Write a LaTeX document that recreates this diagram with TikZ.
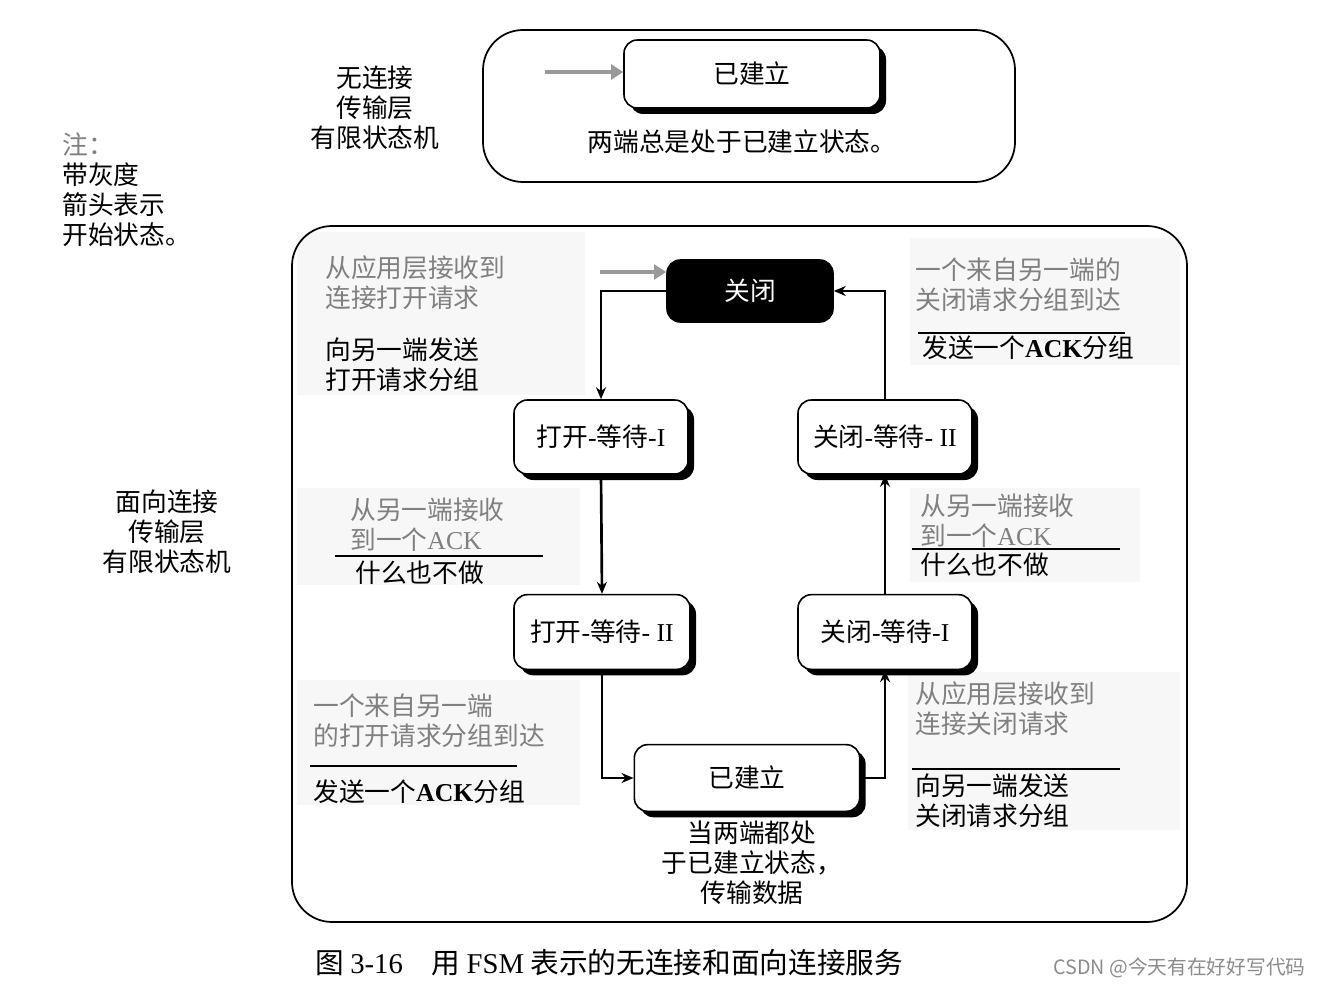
\documentclass[tikz,border=0pt]{standalone}
\usepackage{fontspec}
\setmainfont{Noto Sans CJK SC}
\newfontfamily\lat{Liberation Serif}
\usetikzlibrary{shadows,arrows.meta}
\tikzset{
  txt/.style={font=\fontsize{19.3}{22.5}\selectfont, inner sep=0pt},
  gtxt/.style={txt, text=black!50},
  state/.style={draw, line width=1.2pt, rounded corners=10pt, fill=white,
    drop shadow={shadow xshift=4.5pt, shadow yshift=-4.5pt, fill=black, opacity=1}, txt},
  conn/.style={line width=2pt, -{Stealth[length=9pt,width=7.5pt]}},
  startarrow/.style={line width=3pt, black!40, -{Triangle[length=9pt,width=11pt]}},
  frame/.style={draw, line width=1.3pt, rounded corners=30pt},
  rulel/.style={line width=1.3pt},
  ghost/.style={fill=black!3, draw=none},
}
\begin{document}
\begin{tikzpicture}[x=0.75pt,y=-0.75pt]
\useasboundingbox (0,0) rectangle (1318,988);
\fill[white] (0,0) rectangle (1318,988);

% faint background patches
\fill[ghost] (297,232) rectangle (585,395);
\fill[ghost] (910,238) rectangle (1180,365);
\fill[ghost] (297,488) rectangle (580,585);
\fill[ghost] (910,488) rectangle (1140,582);
\fill[ghost] (297,680) rectangle (580,805);
\fill[ghost] (908,672) rectangle (1180,830);

% frames
\draw[frame] (483,30) rectangle (1015,182);
\draw[frame] (292,226) rectangle (1187,922);

% side labels
\node[txt, align=center] (lblcl) at (375,108) {无连接\\传输层\\有限状态机};
\node[gtxt, anchor=west] (note) at (62,145) {注：};
\node[txt, align=left, anchor=west] (notetxt) at (62,205) {带灰度\\箭头表示\\开始状态。};
\node[txt, align=center] (lblco) at (167,532) {面向连接\\传输层\\有限状态机};

% connectionless FSM
\node[state, minimum width=192pt, minimum height=51pt] (est0) at (752,74) {已建立};
\coordinate (s0) at (545,72);
\draw[startarrow] (s0) -- (est0.west |- s0);
\node[txt] (est0txt) at (742,142) {两端总是处于已建立状态。};

% connection-oriented FSM states
\node[draw, line width=1.2pt, rounded corners=10pt, fill=black, text=white, txt,
      minimum width=124.5pt, minimum height=46.5pt] (close) at (750,291) {关闭};
\node[state, minimum width=130.5pt, minimum height=55.5pt] (ow1) at (601,437) {打开{\lat -}等待{\lat -I}};
\node[state, minimum width=130.5pt, minimum height=55.5pt] (cw2) at (885,437) {关闭{\lat -}等待{\lat - II}};
\node[state, minimum width=132pt, minimum height=56pt] (ow2) at (602,632) {打开{\lat -}等待{\lat - II}};
\node[state, minimum width=130.5pt, minimum height=56pt] (cw1) at (885,632) {关闭{\lat -}等待{\lat -I}};
\node[state, minimum width=169pt, minimum height=50pt] (est) at (747,778) {已建立};

\coordinate (s1) at (600,272);
\draw[startarrow] (s1) -- (close.west |- s1);

% transitions
\draw[conn] (close.west) -| (ow1.north);
\draw[conn] (ow1.south) -- (ow2.north);
\draw[conn] (ow2.south) |- (est.west);
\draw[conn] (est.east) -| (cw1.south);
\draw[conn] (cw1.north) -- (cw2.south);
\draw[conn] (cw2.north) |- (close.east);

% transition labels
\node[gtxt, align=left, anchor=west] (tlg) at (325,283) {从应用层接收到\\连接打开请求};
\node[txt, align=left, anchor=west] (tlb) at (325,365) {向另一端发送\\打开请求分组};

\node[gtxt, align=left, anchor=west] (trg) at (915,285) {一个来自另一端的\\关闭请求分组到达};
\draw[rulel] (918,333) -- (1125,333);
\node[txt, anchor=west] (trb) at (922,348) {发送一个{\lat\bfseries ACK}分组};

\node[gtxt, align=left, anchor=west] (lmg) at (350,525) {从另一端接收\\到一个{\lat ACK}};
\draw[rulel] (335,556) -- (543,556);
\node[txt, anchor=west] (lmb) at (355,573) {什么也不做};

\node[gtxt, align=left, anchor=west] (rmg) at (920,521) {从另一端接收\\到一个{\lat ACK}};
\draw[rulel] (912,549) -- (1120,549);
\node[txt, anchor=west] (rmb) at (920,565) {什么也不做};

\node[gtxt, align=left, anchor=west] (llg) at (313,721) {一个来自另一端\\的打开请求分组到达};
\draw[rulel] (310,766) -- (517,766);
\node[txt, anchor=west] (llb) at (313,792) {发送一个{\lat\bfseries ACK}分组};

\node[gtxt, align=left, anchor=west] (lrg) at (915,709) {从应用层接收到\\连接关闭请求};
\draw[rulel] (912,769) -- (1120,769);
\node[txt, align=left, anchor=west] (lrb) at (915,801) {向另一端发送\\关闭请求分组};

\node[txt, align=center] (esttxt) at (752,863) {当两端都处\\于已建立状态，\\传输数据};

% caption
\node[inner sep=0pt, anchor=west, font=\fontsize{21.5}{24}\selectfont] (cap) at (315,963)
  {图 {\lat 3-16}\quad 用 {\lat FSM} 表示的无连接和面向连接服务};
\node[inner sep=0pt, anchor=west, text=black!45, font=\fontsize{14.8}{16}\selectfont] (wm) at (1053,968)
  {CSDN @今天有在好好写代码};
\end{tikzpicture}
\end{document}
